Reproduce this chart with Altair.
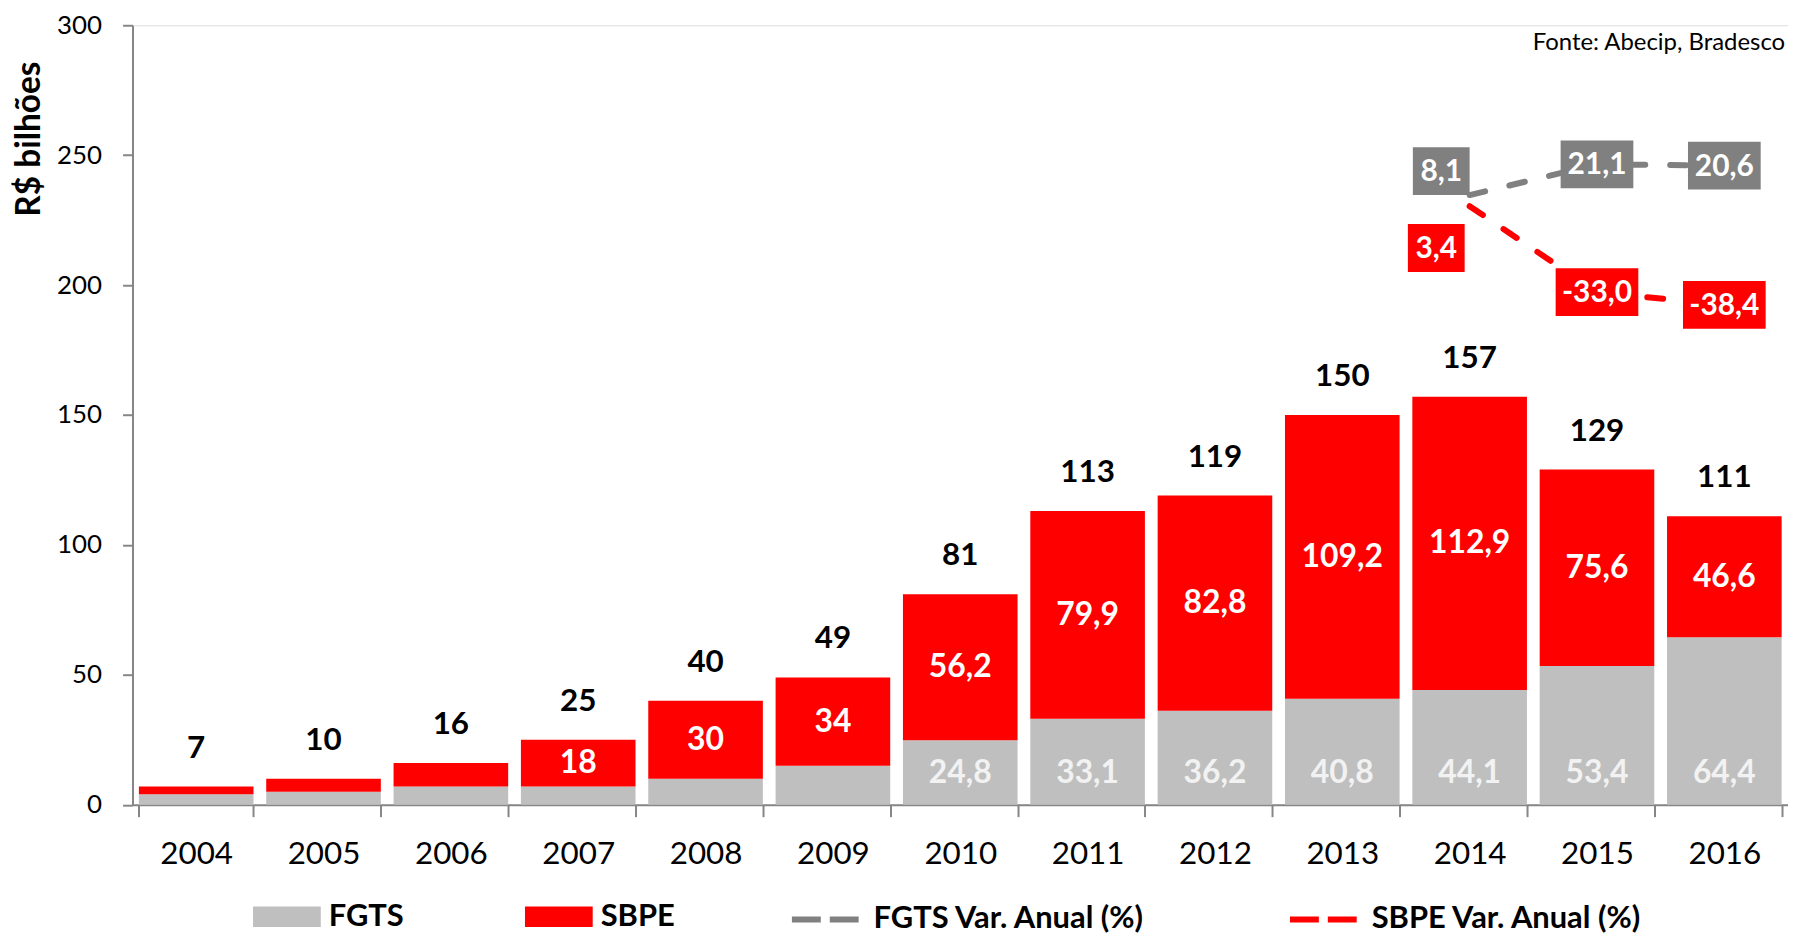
import altair as alt
import pandas as pd

# ---------------- data ----------------
years = ["2004", "2005", "2006", "2007", "2008", "2009", "2010",
         "2011", "2012", "2013", "2014", "2015", "2016"]
fgts = [4, 5, 7, 7, 10, 15, 24.8, 33.1, 36.2, 40.8, 44.1, 53.4, 64.4]
sbpe = [3, 5, 9, 18, 30, 34, 56.2, 79.9, 82.8, 109.2, 112.9, 75.6, 46.6]
totals = [7, 10, 16, 25, 40, 49, 81, 113, 119, 150, 157, 129, 111]

var_years = ["2014", "2015", "2016"]
fgts_var = [8.1, 21.1, 20.6]
sbpe_var = [3.4, -33.0, -38.4]

y_ticks = [0, 50, 100, 150, 200, 250, 300]
source_note = "Fonte: Abecip, Bradesco"

FONT = "Lato"
GRAY_BAR = "#BFBFBF"
RED = "#FF0000"
GRAY_LINE = "#808080"
AXIS_GRAY = "#868686"


def fmt(v, dec=None):
    s = f"{v:.{dec}f}" if dec is not None else f"{v:g}"
    return s.replace(".", ",")


# ---------------- tables ----------------
bar_rows = []
for i, y in enumerate(years):
    bar_rows.append(dict(year=y, serie="FGTS", lo=0, hi=fgts[i],
                         label=fmt(fgts[i]), show=int(y) >= 2010))
    bar_rows.append(dict(year=y, serie="SBPE", lo=fgts[i], hi=fgts[i] + sbpe[i],
                         label=fmt(sbpe[i]), show=int(y) >= 2007))
bars_df = pd.DataFrame(bar_rows)
bars_df["mid"] = (bars_df["lo"] + bars_df["hi"]) / 2
tot_df = pd.DataFrame(dict(year=years, total=totals,
                           label=[fmt(t) for t in totals]))

FV = "FGTS Var. Anual (%)"
SV = "SBPE Var. Anual (%)"
line_rows = []
for i, y in enumerate(var_years):
    line_rows.append(dict(year=y, serie=FV, v=fgts_var[i], label=fmt(fgts_var[i], 1)))
    line_rows.append(dict(year=y, serie=SV, v=sbpe_var[i], label=fmt(sbpe_var[i], 1)))
lines_df = pd.DataFrame(line_rows)

note_df = pd.DataFrame(dict(year=["2015"], y=[300], text=[source_note]))

# ---------------- scales / axes ----------------
xscale = alt.Scale(domain=years, paddingInner=0.1, paddingOuter=0.05)
yscale = alt.Scale(domain=[0, 300], nice=False, zero=True)
y2scale = alt.Scale(domain=[-250, 80], nice=False, zero=False)

x_axis = alt.Axis(title=None, labelAngle=0, labelFont=FONT, labelFontSize=31.5,
                  labelColor="black", labelPadding=22, tickBand="extent",
                  tickSize=12, tickWidth=2, tickColor=AXIS_GRAY,
                  domainColor=AXIS_GRAY, domainWidth=2, grid=False, orient="bottom")
y_axis = alt.Axis(values=y_ticks, title="R$ bilhões", titleFont=FONT,
                  titleFontSize=33.5, titleFontWeight="bold", titleColor="black",
                  titleAngle=270, titleAlign="right", titleBaseline="alphabetic",
                  titleX=-93, titleY=36, orient="left",
                  labelFont=FONT, labelFontSize=26, labelColor="black",
                  labelPadding=21, tickSize=10, tickWidth=2, tickColor=AXIS_GRAY,
                  domainColor=AXIS_GRAY, domainWidth=2, grid=False)

X = alt.X("year:O", scale=xscale, axis=x_axis)

# ---------------- bar layers ----------------
bars = alt.Chart(bars_df).mark_bar(strokeWidth=0).encode(
    x=X,
    y=alt.Y("lo:Q", scale=yscale, axis=y_axis),
    y2="hi:Q",
    color=alt.Color("serie:N",
                    scale=alt.Scale(domain=["FGTS", "SBPE"], range=[GRAY_BAR, RED]),
                    legend=alt.Legend(title=None, orient="none", legendX=121, legendY=861,
                                      direction="horizontal",
                                      symbolType="M-1,-0.3H1V0.3H-1Z", symbolSize=4624,
                                      symbolStrokeWidth=0, labelFont=FONT,
                                      labelFontSize=31, labelFontWeight="bold",
                                      labelColor="black", labelOffset=8,
                                      columnPadding=121, padding=0, labelLimit=400)),
)

tot_text = alt.Chart(tot_df).mark_text(
    font=FONT, fontSize=31.5, fontWeight="bold", color="black",
    baseline="alphabetic", align="center", dy=-29
).encode(x=X, y=alt.Y("total:Q", scale=yscale, axis=None), text="label:N")

sbpe_text = alt.Chart(bars_df).transform_filter(
    "datum.serie == 'SBPE' && datum.show"
).mark_text(
    font=FONT, fontSize=32, fontWeight="bold", color="white",
    baseline="middle", align="center"
).encode(x=X, y=alt.Y("mid:Q", scale=yscale, axis=None), text="label:N")

fgts_text = alt.Chart(bars_df).transform_filter(
    "datum.serie == 'FGTS' && datum.show"
).mark_text(
    font=FONT, fontSize=32, fontWeight="bold", color="#F2F2F2",
    baseline="middle", align="center", dy=-32
).encode(x=X, y=alt.Y("lo:Q", scale=yscale, axis=None), text="label:N")

note = alt.Chart(note_df).mark_text(
    font=FONT, fontSize=24, color="black", align="left",
    baseline="alphabetic", dx=-7, dy=25, clip=True
).encode(x=alt.X("year:O", scale=xscale, axis=x_axis, bandPosition=0),
         y=alt.Y("y:Q", scale=yscale, axis=None), text="text:N")

# ---------------- variation lines ----------------
lines = alt.Chart(lines_df).mark_line(
    strokeWidth=6, strokeDash=[16, 25], strokeCap="round"
).encode(
    x=X,
    y=alt.Y("v:Q", scale=y2scale, axis=None),
    stroke=alt.Stroke("serie:N",
                      scale=alt.Scale(domain=[FV, SV], range=[GRAY_LINE, RED]),
                      legend=alt.Legend(title=None, orient="none", legendX=659, legendY=861,
                                        direction="horizontal", symbolType="stroke",
                                        symbolSize=4489, symbolStrokeWidth=6,
                                        symbolDash=[29, 9], labelFont=FONT,
                                        labelFontSize=31, labelFontWeight="bold",
                                        labelColor="black", labelOffset=12,
                                        columnPadding=133, padding=0, labelLimit=500)),
    detail="serie:N",
)

box_w = {3: 57, 4: 73, 5: 83}
box_h = 48
offsets = {("2014", FV): (-28.5, -24), ("2014", SV): (-33.5, 42)}
box_layers = []
for serie, col in [(FV, GRAY_LINE), (SV, RED)]:
    for y in var_years:
        row = lines_df[(lines_df.serie == serie) & (lines_df.year == y)].iloc[0]
        w = box_w[len(row.label)]
        ox, oy = offsets.get((y, serie), (0, 0))
        hh = (box_h / 2) / (w / 2)
        filt = f"datum.serie == '{serie}' && datum.year == '{y}'"
        base = alt.Chart(lines_df).transform_filter(filt)
        box = base.mark_point(
            shape=f"M-1,-{hh:.4f}H1V{hh:.4f}H-1Z", size=w * w, filled=True,
            opacity=1, strokeWidth=0, color=col, xOffset=ox, yOffset=oy
        ).encode(x=X, y=alt.Y("v:Q", scale=y2scale, axis=None))
        txt = base.mark_text(
            font=FONT, fontSize=30, fontWeight="bold", color="white",
            baseline="middle", align="center", dx=ox, dy=oy + 1
        ).encode(x=X, y=alt.Y("v:Q", scale=y2scale, axis=None), text="label:N")
        box_layers += [box, txt]

chart = alt.layer(
    bars, tot_text, sbpe_text, fgts_text, note, lines, *box_layers
).resolve_scale(y="independent").properties(
    width=1662, height=782.5,
    autosize=alt.AutoSizeParams(type="none"),
    padding={"left": 125, "top": 15.5, "right": 0, "bottom": 131},
).configure_view(stroke=None).configure(font=FONT, background="white")

chart.save("out.html", embed_options={"renderer": "svg", "actions": False})
